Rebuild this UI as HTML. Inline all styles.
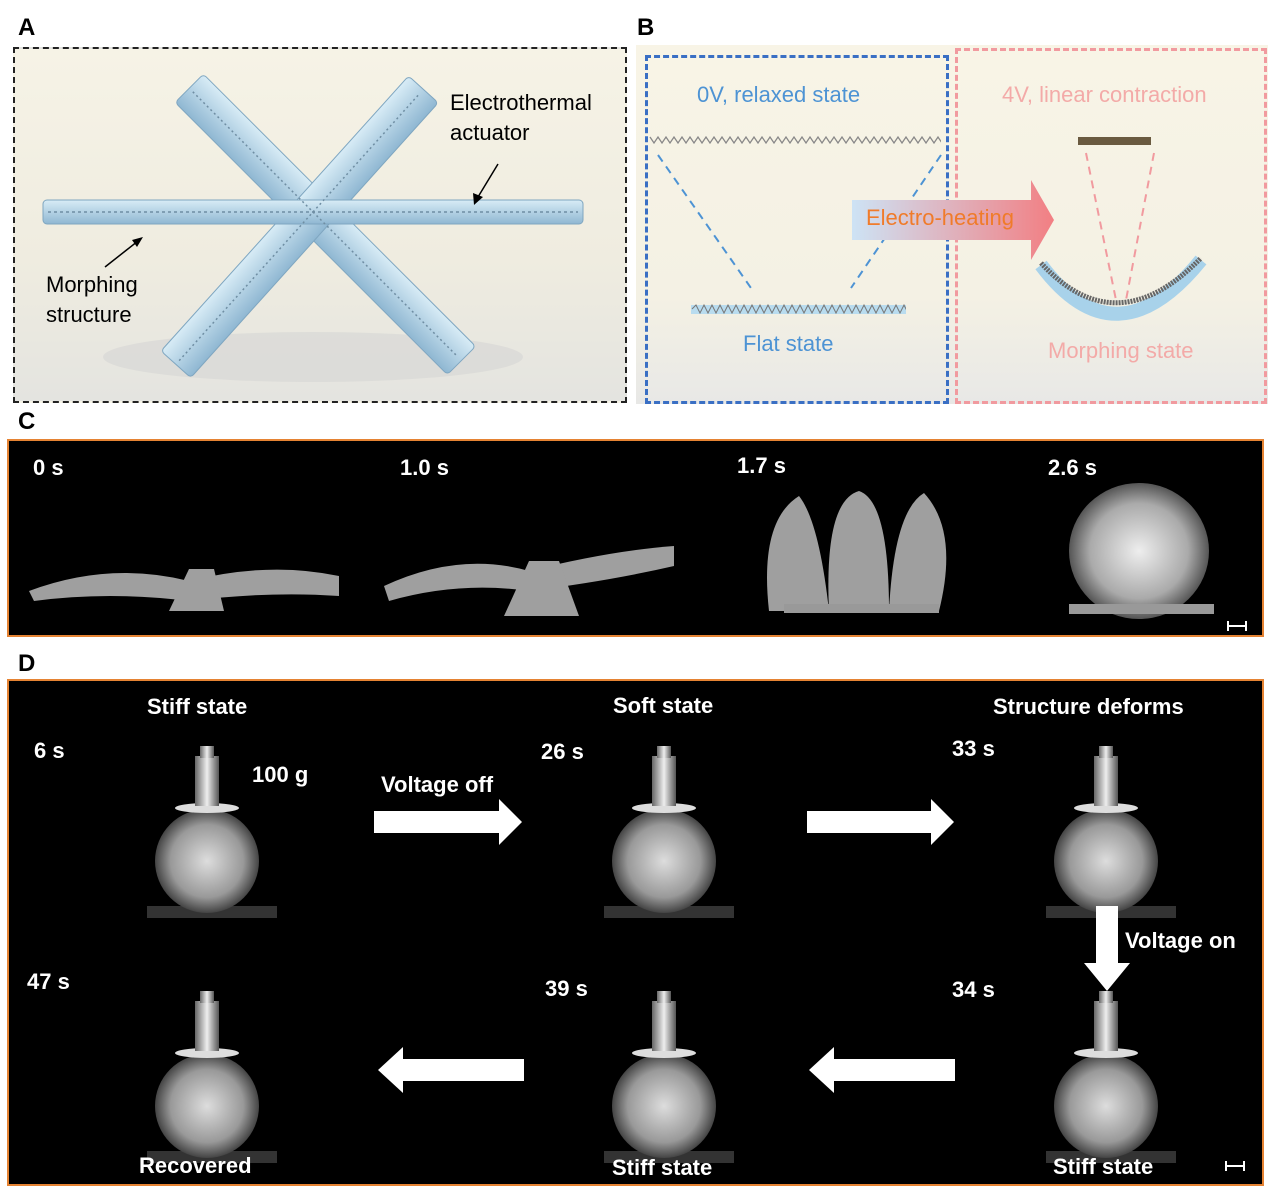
<!DOCTYPE html>
<html><head><meta charset="utf-8"><style>
body{margin:0;width:1271px;height:1196px;background:#fff;position:relative;overflow:hidden;font-family:"Liberation Sans",Arial,sans-serif}
.a{position:absolute}
.lbl{font-weight:bold;font-size:24px}
.w{color:#fff;font-weight:bold;font-size:22px;position:absolute}
</style></head><body>
<div class="a lbl" style="left:18px;top:14px">A</div>
<div class="a lbl" style="left:637px;top:14px">B</div>
<div class="a lbl" style="left:18px;top:408px">C</div>
<div class="a lbl" style="left:18px;top:650px">D</div>

<!-- Panel A -->
<div class="a" style="left:13px;top:47px;width:610px;height:352px;border:2px dashed #222;background:linear-gradient(#f6f3e6,#efece0 60%,#e4e4e0)"></div>
<svg class="a" style="left:13px;top:47px" width="614" height="356">
<defs><linearGradient id="g" x1="0" x2="0" y1="0" y2="1"><stop offset="0" stop-color="#d8ecf6"/><stop offset="1" stop-color="#8fb7d2"/></linearGradient></defs>
<ellipse cx="300" cy="310" rx="210" ry="25" fill="#d5d5d3" opacity=".6"/>
<g fill="url(#g)" stroke="#7fa6c0" stroke-width="1">
<g transform="translate(300,165)">
<g transform="rotate(45)"><rect x="-175" y="-20" width="385" height="40" rx="4"/></g>
<g transform="rotate(-48)"><rect x="-205" y="-20" width="370" height="40" rx="4"/></g>
<g transform="rotate(0)"><rect x="-270" y="-12" width="540" height="24" rx="4"/></g>
</g></g>
<g stroke="#6f8ea3" stroke-width="1.5">
<g transform="translate(300,165)">
<path d="M-265 0H265" stroke-dasharray="3 3"/>
<path d="M-170 0H205" transform="rotate(45)" stroke-dasharray="2 3"/>
<path d="M-200 0H160" transform="rotate(-48)" stroke-dasharray="2 3"/>
</g></g>
<line x1="485" y1="117" x2="465" y2="150" stroke="#000" stroke-width="1.5"/>
<polygon points="461,158 460,146 470,150" fill="#000"/>
<line x1="92" y1="220" x2="125" y2="194" stroke="#000" stroke-width="1.5"/>
<polygon points="130,190 124,200 119,193" fill="#000"/>
</svg>
<div class="a" style="left:450px;top:88px;font-size:22px;line-height:30px">Electrothermal<br>actuator</div>
<div class="a" style="left:46px;top:270px;font-size:22px;line-height:30px">Morphing<br>structure</div>

<!-- Panel B -->
<div class="a" style="left:636px;top:45px;width:632px;height:359px;background:linear-gradient(#f8f4e6,#f4f1e4 70%,#e8e8e6)"></div>
<div class="a" style="left:645px;top:55px;width:298px;height:343px;border:3px dashed #3a6fc4"></div>
<div class="a" style="left:955px;top:48px;width:306px;height:350px;border:3px dashed #f19a9f"></div>
<div class="a" style="left:697px;top:82px;font-size:22px;color:#4d93d4">0V, relaxed state</div>
<div class="a" style="left:1002px;top:82px;font-size:22px;color:#f3aaa8">4V, linear contraction</div>
<div class="a" style="left:743px;top:331px;font-size:22px;color:#4d93d4">Flat state</div>
<div class="a" style="left:1048px;top:338px;font-size:22px;color:#f3aaa8">Morphing state</div>
<svg class="a" style="left:636px;top:45px" width="632" height="359">
<defs><linearGradient id="ar" x1="0" x2="1"><stop offset="0" stop-color="#cde3f5"/><stop offset="1" stop-color="#f27f83"/></linearGradient>
<clipPath id="c1"><rect x="12" y="80" width="293" height="30"/></clipPath>
<clipPath id="c2"><rect x="55" y="250" width="215" height="30"/></clipPath></defs>
<g clip-path="url(#c1)"><path d="M14 92 l4 6 4-6 4 6 4-6 4 6 4-6 4 6 4-6 4 6 4-6 4 6 4-6 4 6 4-6 4 6 4-6 4 6 4-6 4 6 4-6 4 6 4-6 4 6 4-6 4 6 4-6 4 6 4-6 4 6 4-6 4 6 4-6 4 6 4-6 4 6 4-6 4 6 4-6 4 6 4-6 4 6 4-6 4 6 4-6 4 6 4-6 4 6 4-6 4 6 4-6 4 6 4-6 4 6 4-6 4 6 4-6 4 6 4-6 4 6 4-6 4 6 4-6 4 6 4-6 4 6 4-6 4 6 4-6 4 6 4-6 4 6 4-6 4 6 4-6 4 6 4-6 4 6 4-6 4 6 4-6 4 6 4-6 4 6 4-6 4 6 4-6" fill="none" stroke="#888" stroke-width="1.3"/></g>
<line x1="22" y1="110" x2="115" y2="243" stroke="#4d93d4" stroke-width="2" stroke-dasharray="8 6"/>
<line x1="305" y1="110" x2="215" y2="243" stroke="#4d93d4" stroke-width="2" stroke-dasharray="8 6"/>
<rect x="55" y="260" width="215" height="9" fill="#b9dcef"/>
<g clip-path="url(#c2)"><path d="M56 264 l4-4 4 8 4-8 4 8 4-8 4 8 4-8 4 8 4-8 4 8 4-8 4 8 4-8 4 8 4-8 4 8 4-8 4 8 4-8 4 8 4-8 4 8 4-8 4 8 4-8 4 8 4-8 4 8 4-8 4 8 4-8 4 8 4-8 4 8 4-8 4 8 4-8 4 8 4-8 4 8 4-8 4 8 4-8 4 8 4-8 4 8 4-8 4 8 4-8 4 8 4-8 4 8 4-8 4 8 4-8 4 8 4-8 4 8" fill="none" stroke="#777" stroke-width="1"/></g>
<polygon points="216,155 395,155 395,135 418,175 395,215 395,195 216,195" fill="url(#ar)"/>
<rect x="442" y="92" width="73" height="8" fill="#6a5a40"/>
<line x1="450" y1="108" x2="480" y2="255" stroke="#f19a9f" stroke-width="2" stroke-dasharray="8 6"/>
<line x1="518" y1="108" x2="490" y2="255" stroke="#f19a9f" stroke-width="2" stroke-dasharray="8 6"/>
<path d="M405 220 Q480 320 565 215" fill="none" stroke="#a8d2ea" stroke-width="14"/>
<path d="M405 218 Q480 300 565 213" fill="none" stroke="#666" stroke-width="5" stroke-dasharray="2 1"/>
</svg>
<div class="a" style="left:866px;top:205px;font-size:22px;color:#f07b2a">Electro-heating</div>

<!-- Panel C -->
<div class="a" style="left:7px;top:439px;width:1253px;height:194px;border:2px solid #e58333;background:#000"></div>
<svg class="a" style="left:9px;top:441px" width="1253" height="194">
<defs><radialGradient id="s"><stop offset="0" stop-color="#eee"/><stop offset=".7" stop-color="#aaa"/><stop offset="1" stop-color="#555"/></radialGradient></defs>
<g fill="#bbb" opacity=".85">
<path d="M20 150 Q100 120 180 140 L180 160 Q100 150 25 160Z"/>
<path d="M180 140 Q260 120 330 135 L330 155 Q260 150 180 160Z"/>
<polygon points="160,170 180,128 205,128 215,170"/>
<path d="M375 145 Q450 110 520 130 L520 150 Q450 140 380 160Z"/>
<path d="M520 130 Q600 110 665 105 L665 125 Q600 140 520 150Z"/>
<polygon points="495,175 520,120 550,120 570,175"/>
<path d="M760 170 Q750 80 790 55 Q810 80 820 170Z"/>
<path d="M820 170 Q815 60 850 50 Q880 60 880 170Z"/>
<path d="M880 170 Q885 70 915 52 Q950 90 930 170Z"/>
</g>
<ellipse cx="1130" cy="110" rx="70" ry="68" fill="url(#s)"/>
<rect x="1060" y="163" width="145" height="10" fill="#999"/>
<rect x="775" y="163" width="155" height="9" fill="#999"/>
<rect x="1218" y="180" width="2" height="10" fill="#fff"/><rect x="1236" y="180" width="2" height="10" fill="#fff"/><rect x="1218" y="184" width="20" height="2" fill="#fff"/>
</svg>
<div class="w" style="left:33px;top:455px">0 s</div>
<div class="w" style="left:400px;top:455px">1.0 s</div>
<div class="w" style="left:737px;top:453px">1.7 s</div>
<div class="w" style="left:1048px;top:455px">2.6 s</div>

<!-- Panel D -->
<div class="a" style="left:7px;top:679px;width:1253px;height:503px;border:2px solid #e58333;background:#000"></div>
<svg class="a" style="left:9px;top:681px" width="1253" height="503">
<defs><radialGradient id="b"><stop offset="0" stop-color="#ddd"/><stop offset=".7" stop-color="#999"/><stop offset="1" stop-color="#444"/></radialGradient>
<linearGradient id="m" x1="0" x2="1"><stop offset="0" stop-color="#666"/><stop offset=".5" stop-color="#eee"/><stop offset="1" stop-color="#555"/></linearGradient>
<g id="ball"><rect x="-60" y="90" width="130" height="12" fill="#333"/><ellipse cx="0" cy="45" rx="52" ry="52" fill="url(#b)"/><ellipse cx="0" cy="-8" rx="32" ry="5" fill="#ddd"/><rect x="-12" y="-60" width="24" height="50" fill="url(#m)"/><rect x="-7" y="-70" width="14" height="12" fill="url(#m)"/></g></defs>
<use href="#ball" x="198" y="135"/>
<use href="#ball" x="655" y="135"/>
<use href="#ball" x="1097" y="135"/>
<use href="#ball" x="198" y="380"/>
<use href="#ball" x="655" y="380"/>
<use href="#ball" x="1097" y="380"/>
<g fill="#fff">
<polygon points="365,130 490,130 490,118 513,141 490,164 490,152 365,152"/>
<polygon points="798,130 922,130 922,118 945,141 922,164 922,152 798,152"/>
<polygon points="1087,225 1109,225 1109,282 1121,282 1098,310 1075,282 1087,282"/>
<polygon points="946,378 825,378 825,366 800,389 825,412 825,400 946,400"/>
<polygon points="515,378 394,378 394,366 369,389 394,412 394,400 515,400"/>
<rect x="1216" y="480" width="2" height="10"/><rect x="1234" y="480" width="2" height="10"/><rect x="1216" y="484" width="20" height="2"/>
</g>
</svg>
<div class="w" style="left:147px;top:694px">Stiff state</div>
<div class="w" style="left:613px;top:693px">Soft state</div>
<div class="w" style="left:993px;top:694px">Structure deforms</div>
<div class="w" style="left:34px;top:738px">6 s</div>
<div class="w" style="left:541px;top:739px">26 s</div>
<div class="w" style="left:952px;top:736px">33 s</div>
<div class="w" style="left:252px;top:762px">100 g</div>
<div class="w" style="left:381px;top:772px">Voltage off</div>
<div class="w" style="left:1125px;top:928px">Voltage on</div>
<div class="w" style="left:27px;top:969px">47 s</div>
<div class="w" style="left:545px;top:976px">39 s</div>
<div class="w" style="left:952px;top:977px">34 s</div>
<div class="w" style="left:139px;top:1153px">Recovered</div>
<div class="w" style="left:612px;top:1155px">Stiff state</div>
<div class="w" style="left:1053px;top:1154px">Stiff state</div>
</body></html>
